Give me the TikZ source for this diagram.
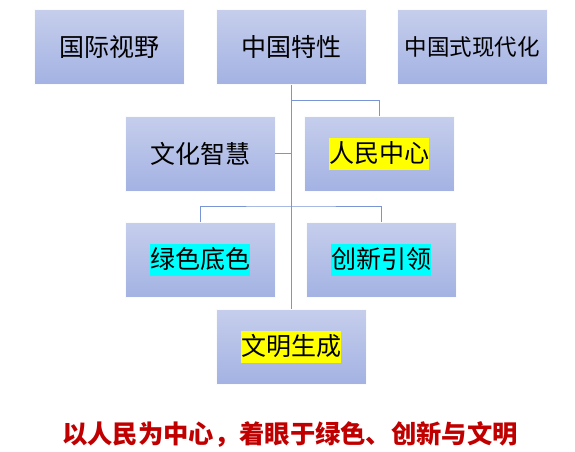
\documentclass[tikz,border=0pt]{standalone}
\usepackage{fontspec}
\usepackage{tikz}
\usetikzlibrary{positioning,calc}
\newfontfamily\cjk{Noto Sans CJK SC}
\definecolor{boxtop}{HTML}{C6CEEC}
\definecolor{boxbot}{HTML}{A3B2E3}
\definecolor{linkblue}{HTML}{7A95D6}
\definecolor{notered}{HTML}{C00000}
\definecolor{markyellow}{HTML}{FFFF00}
\definecolor{markcyan}{HTML}{00FFFF}
\newcommand\marktext[2]{{\setlength{\fboxsep}{0pt}\colorbox{#1}{\vrule width 0pt height 0.98em depth 0.3em #2}}}

\begin{document}
\begin{tikzpicture}[x=1pt, y=-1pt,
    topic/.style={rectangle, minimum width=150pt, minimum height=75pt, inner sep=0pt,
      top color=boxtop, bottom color=boxbot, draw=white!92!boxtop, line width=0.6pt,
      font=\cjk\fontsize{25}{30}\selectfont},
    link/.style={draw=linkblue, line width=0.9pt}]
   \useasboundingbox (0,0) rectangle (575,451);
   % top row
   \node[topic] (gjsy) at (109,47) {国际视野};
   \node[topic] (zgtx) at (291,47) {中国特性};
   \node[topic, font=\cjk\fontsize{22.5}{27}\selectfont] (zgsx) at (472,47) {中国式现代化};
   % second row
   \node[topic] (whzh) at (200,153.5) {文化智慧};
   \node[topic] (rmzx) at (379,153.5) {\marktext{markyellow}{人民中心}};
   % third row
   \node[topic] (lsds) at (200,260) {\marktext{markcyan}{绿色底色}};
   \node[topic] (cxyl) at (381,260) {\marktext{markcyan}{创新引领}};
   \node[topic] (wmsc) at (291,347) {\marktext{markyellow}{文明生成}};
   % tree lines
   \coordinate (fork1) at (291,100);
   \coordinate (fork2) at (291,206);
   \draw[link] (zgtx.south) -- (wmsc.north);
   \draw[link] (fork1) -| (rmzx.north);
   \draw[link] (whzh.east) -- (whzh.east -| zgtx.south);
   \draw[link] (lsds.north) |- (fork2) -| (cxyl.north);
   % summary line
   \node[text=notered, font=\cjk\bfseries\fontsize{25.3}{30}\selectfont] (note) at (290,434)
     {以人民为中心，着眼于绿色、创新与文明};
\end{tikzpicture}
\end{document}
